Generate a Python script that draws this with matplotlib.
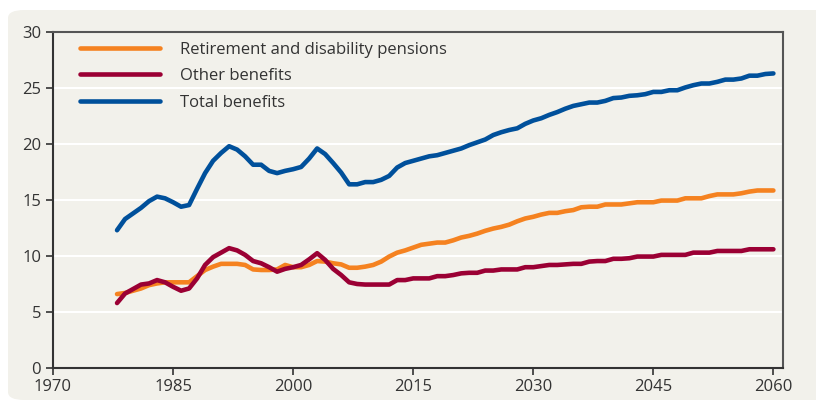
import numpy as np
import matplotlib
matplotlib.use("Agg")
import matplotlib.pyplot as plt
from matplotlib.patches import FancyBboxPatch

plt.rcParams['font.family'] = ['Open Sans', 'DejaVu Sans']

years = np.arange(1978, 2061)

total = [12.3, 13.3, 13.8, 14.3, 14.9, 15.3, 15.15, 14.8, 14.4, 14.55,
         16.0, 17.4, 18.5, 19.2, 19.8, 19.5, 18.9, 18.15, 18.15, 17.6,
         17.4, 17.6, 17.75, 17.95, 18.7, 19.6, 19.1, 18.3, 17.45, 16.4,
         16.4, 16.6, 16.6, 16.8, 17.15, 17.9, 18.3, 18.5, 18.7, 18.9,
         19.0, 19.2, 19.4, 19.6, 19.9, 20.15, 20.4, 20.8, 21.05, 21.25,
         21.4, 21.8, 22.1, 22.3, 22.6, 22.85, 23.15, 23.4, 23.55, 23.7,
         23.7, 23.85, 24.1, 24.15, 24.3, 24.35, 24.45, 24.65, 24.65, 24.8,
         24.8, 25.05, 25.25, 25.4, 25.4, 25.55, 25.75, 25.75, 25.85, 26.1,
         26.1, 26.25, 26.3]

retirement = [6.6, 6.7, 6.9, 7.1, 7.4, 7.55, 7.65, 7.65, 7.65, 7.65,
              8.2, 8.75, 9.05, 9.3, 9.3, 9.3, 9.2, 8.8, 8.75, 8.75,
              8.8, 9.2, 9.0, 9.0, 9.2, 9.55, 9.5, 9.35, 9.25, 8.95,
              8.95, 9.05, 9.2, 9.5, 9.95, 10.3, 10.5, 10.75, 11.0, 11.1,
              11.2, 11.2, 11.4, 11.65, 11.8, 12.0, 12.25, 12.45, 12.6, 12.8,
              13.1, 13.35, 13.5, 13.7, 13.85, 13.85, 14.0, 14.1, 14.35, 14.4,
              14.4, 14.6, 14.6, 14.6, 14.7, 14.8, 14.8, 14.8, 14.95, 14.95,
              14.95, 15.15, 15.15, 15.15, 15.35, 15.5, 15.5, 15.5, 15.6, 15.75,
              15.85, 15.85, 15.85]

other = [5.8, 6.65, 7.05, 7.45, 7.55, 7.85, 7.65, 7.25, 6.9, 7.1,
         8.0, 9.2, 9.9, 10.3, 10.7, 10.5, 10.1, 9.55, 9.35, 9.0,
         8.6, 8.85, 9.0, 9.2, 9.7, 10.25, 9.65, 8.85, 8.3, 7.65,
         7.5, 7.45, 7.45, 7.45, 7.45, 7.85, 7.85, 8.0, 8.0, 8.0,
         8.2, 8.2, 8.3, 8.45, 8.5, 8.5, 8.7, 8.7, 8.8, 8.8,
         8.8, 9.0, 9.0, 9.1, 9.2, 9.2, 9.25, 9.3, 9.3, 9.5,
         9.55, 9.55, 9.75, 9.75, 9.8, 9.95, 9.95, 9.95, 10.1, 10.1,
         10.1, 10.1, 10.3, 10.3, 10.3, 10.45, 10.45, 10.45, 10.45, 10.6,
         10.6, 10.6, 10.6]

bg = '#f2f1eb'
txt = '#333333'

fig = plt.figure(figsize=(8.16, 4.03), dpi=100)
fig.patch.set_facecolor('white')
box = FancyBboxPatch((8 / 816, 3 / 403), 1.2, 390 / 403,
                     boxstyle='round,pad=0,rounding_size=0.02',
                     transform=fig.transFigure, facecolor=bg,
                     edgecolor='none', zorder=-10)
fig.add_artist(box)

ax = fig.add_axes([53 / 816, 35 / 403, 730 / 816, 336 / 403])
ax.set_facecolor(bg)
ax.set_zorder(1)

for yv in [5, 10, 15, 20, 25]:
    ax.axhline(yv, color='white', lw=1.5, zorder=1)

l1, = ax.plot(years, retirement, color='#f58220', lw=3.3, zorder=3,
              solid_capstyle='round', label='Retirement and disability pensions')
l2, = ax.plot(years, other, color='#9b0034', lw=3.3, zorder=4,
              solid_capstyle='round', label='Other benefits')
l3, = ax.plot(years, total, color='#00509b', lw=3.3, zorder=3,
              solid_capstyle='round', label='Total benefits')

ax.set_xlim(1970, 2061.2)
ax.set_ylim(0, 30)
ax.set_xticks(np.arange(1970, 2061, 15))
ax.set_yticks(np.arange(0, 31, 5))
ax.tick_params(axis='both', labelsize=12, colors=txt, length=5, width=1.2,
               direction='out')
ax.tick_params(axis='x', pad=3)

for side in ['left', 'bottom']:
    ax.spines[side].set_color('#333333')
    ax.spines[side].set_linewidth(1.5)
for side in ['top', 'right']:
    ax.spines[side].set_color('#555555')
    ax.spines[side].set_linewidth(1.5)

leg = ax.legend(handles=[l1, l2, l3], loc='upper left',
                bbox_to_anchor=(0.017, 1.015), frameon=False, fontsize=12,
                handlelength=4.75, handletextpad=1.2, labelspacing=0.62,
                labelcolor=txt)

fig.savefig('out.png', dpi=100, facecolor='white')
